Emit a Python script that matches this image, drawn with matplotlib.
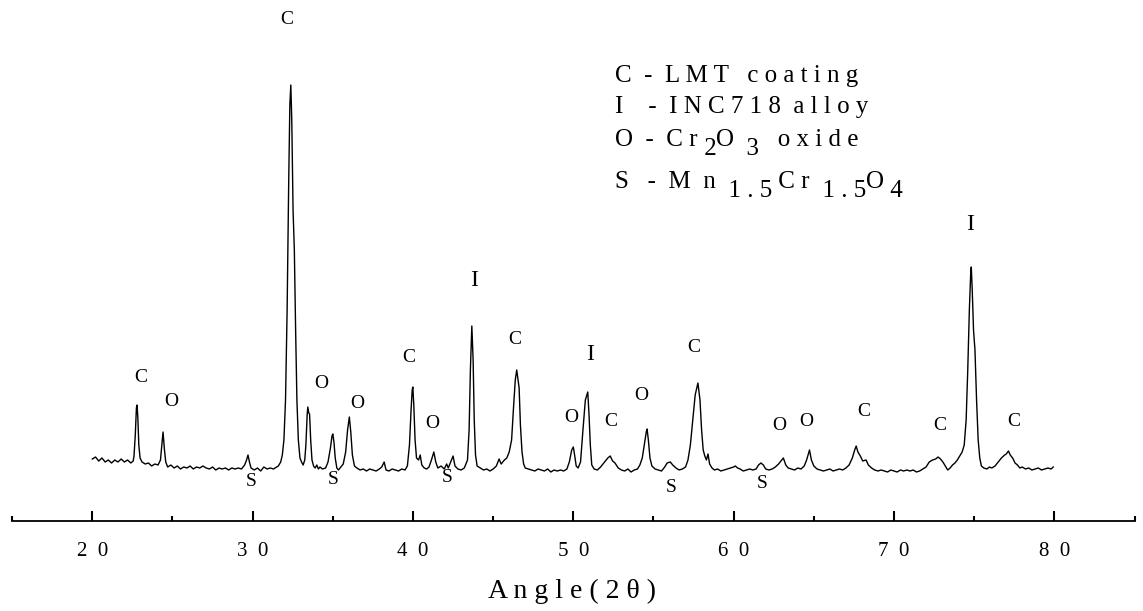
import matplotlib
matplotlib.use("Agg")
import matplotlib.pyplot as plt

plt.rcParams["font.family"] = ["Liberation Serif", "DejaVu Serif"]

# trace of the XRD pattern (2theta in degrees, intensity in a.u.)
two_theta = [
    20.00, 20.20, 20.40, 20.60, 20.80, 21.00, 21.20, 21.40, 21.60, 21.80, 22.00, 22.20, 22.40, 22.55,
    22.60, 22.68, 22.75, 22.79, 22.84, 22.90, 22.98, 23.10, 23.30, 23.50, 23.70, 23.90, 24.10, 24.25,
    24.32, 24.41, 24.50, 24.58, 24.70, 24.90, 25.10, 25.30, 25.50, 25.70, 25.90, 26.10, 26.30, 26.50,
    26.70, 26.90, 27.10, 27.30, 27.50, 27.70, 27.90, 28.10, 28.30, 28.50, 28.70, 28.90, 29.10, 29.30,
    29.50, 29.62, 29.71, 29.80, 29.90, 30.10, 30.30, 30.50, 30.70, 30.90, 31.10, 31.30, 31.50, 31.60,
    31.75, 31.85, 31.95, 32.05, 32.15, 32.25, 32.32, 32.38, 32.44, 32.52, 32.60, 32.68, 32.76, 32.85,
    32.95, 33.05, 33.15, 33.25, 33.32, 33.40, 33.44, 33.50, 33.55, 33.62, 33.70, 33.80, 33.90, 34.00,
    34.10, 34.20, 34.35, 34.55, 34.70, 34.85, 34.95, 35.00, 35.07, 35.15, 35.25, 35.35, 35.50, 35.65,
    35.80, 35.92, 36.03, 36.12, 36.22, 36.35, 36.50, 36.70, 36.90, 37.10, 37.30, 37.50, 37.70, 37.90,
    38.05, 38.20, 38.32, 38.50, 38.70, 38.90, 39.10, 39.30, 39.50, 39.65, 39.78, 39.88, 39.95, 39.99,
    40.05, 40.13, 40.22, 40.35, 40.45, 40.55, 40.70, 40.85, 41.00, 41.15, 41.30, 41.42, 41.55, 41.75,
    41.95, 42.10, 42.20, 42.35, 42.50, 42.62, 42.80, 43.00, 43.20, 43.40, 43.50, 43.58, 43.67, 43.75,
    43.82, 43.90, 44.00, 44.20, 44.40, 44.60, 44.80, 45.00, 45.20, 45.37, 45.50, 45.70, 45.85, 46.00,
    46.15, 46.28, 46.38, 46.47, 46.55, 46.62, 46.70, 46.80, 46.90, 47.00, 47.20, 47.40, 47.60, 47.80,
    48.00, 48.20, 48.40, 48.60, 48.80, 49.00, 49.20, 49.40, 49.60, 49.75, 49.90, 50.00, 50.08, 50.18,
    50.30, 50.45, 50.60, 50.75, 50.90, 50.98, 51.06, 51.15, 51.30, 51.50, 51.70, 51.90, 52.05, 52.15,
    52.30, 52.45, 52.60, 52.80, 53.00, 53.20, 53.40, 53.60, 53.80, 54.00, 54.15, 54.30, 54.45, 54.55,
    54.60, 54.68, 54.78, 54.90, 55.10, 55.30, 55.50, 55.70, 55.85, 56.05, 56.20, 56.40, 56.60, 56.80,
    57.00, 57.15, 57.30, 57.45, 57.60, 57.77, 57.90, 58.00, 58.10, 58.20, 58.30, 58.40, 58.50, 58.65,
    58.80, 59.00, 59.20, 59.40, 59.60, 59.80, 60.00, 60.10, 60.25, 60.40, 60.60, 60.80, 61.00, 61.20,
    61.40, 61.55, 61.70, 61.85, 62.00, 62.20, 62.40, 62.60, 62.80, 63.10, 63.25, 63.40, 63.60, 63.80,
    64.00, 64.20, 64.40, 64.55, 64.73, 64.85, 65.00, 65.20, 65.40, 65.60, 65.80, 66.00, 66.20, 66.40,
    66.60, 66.80, 67.00, 67.20, 67.40, 67.55, 67.64, 67.75, 67.90, 68.05, 68.26, 68.40, 68.60, 68.80,
    69.00, 69.20, 69.40, 69.60, 69.80, 70.00, 70.20, 70.40, 70.60, 70.80, 71.00, 71.20, 71.40, 71.60,
    71.80, 72.00, 72.20, 72.40, 72.60, 72.75, 72.90, 73.05, 73.20, 73.35, 73.50, 73.65, 73.80, 73.95,
    74.10, 74.25, 74.38, 74.50, 74.60, 74.70, 74.78, 74.82, 74.88, 74.96, 75.05, 75.15, 75.25, 75.35,
    75.45, 75.60, 75.80, 75.95, 76.10, 76.30, 76.50, 76.70, 76.90, 77.00, 77.14, 77.25, 77.40, 77.55,
    77.70, 77.85, 78.00, 78.20, 78.40, 78.60, 78.80, 79.00, 79.20, 79.40, 79.60, 79.80, 79.93,
]
intensity = [
    21, 23, 19, 22, 18, 20, 17, 20, 18, 21, 18, 20, 17, 19,
    24, 45, 72, 75, 62, 35, 22, 18, 16, 17, 14, 16, 15, 20,
    32, 48, 30, 18, 13, 15, 12, 14, 11, 13, 12, 14, 11, 13,
    12, 14, 12, 11, 13, 10, 12, 11, 12, 10, 12, 11, 12, 11,
    15, 20, 25, 18, 12, 10, 12, 9, 13, 11, 12, 11, 13, 14,
    18, 25, 40, 80, 170, 300, 375, 395, 360, 270, 230, 150, 80, 40,
    22, 18, 15, 20, 35, 65, 73, 67, 66, 40, 20, 14, 12, 15,
    11, 13, 11, 12, 18, 32, 44, 46, 38, 22, 12, 10, 13, 16,
    28, 50, 63, 48, 25, 14, 12, 10, 11, 9, 11, 10, 9, 11,
    13, 18, 10, 9, 11, 10, 9, 11, 10, 14, 35, 70, 90, 93,
    75, 40, 22, 20, 25, 15, 12, 11, 13, 20, 28, 18, 12, 14,
    11, 16, 12, 18, 24, 14, 11, 10, 12, 20, 50, 110, 154, 120,
    60, 25, 14, 12, 10, 11, 9, 11, 14, 21, 16, 20, 22, 28,
    40, 75, 100, 110, 100, 92, 55, 28, 16, 12, 11, 10, 9, 11,
    10, 9, 11, 8, 10, 9, 10, 9, 11, 18, 30, 33, 25, 14,
    12, 18, 50, 80, 88, 65, 35, 15, 11, 10, 13, 17, 20, 22,
    24, 19, 17, 12, 10, 9, 11, 8, 10, 11, 15, 22, 38, 48,
    51, 40, 22, 14, 11, 10, 9, 13, 17, 18, 15, 12, 10, 11,
    13, 20, 35, 60, 85, 97, 80, 50, 30, 24, 20, 26, 16, 12,
    10, 11, 9, 10, 11, 12, 13, 14, 12, 11, 9, 10, 11, 10,
    11, 15, 17, 15, 11, 10, 11, 13, 16, 22, 15, 12, 11, 10,
    12, 11, 14, 20, 30, 20, 14, 11, 10, 9, 10, 11, 9, 10,
    11, 10, 12, 15, 22, 30, 34, 28, 24, 19, 20, 15, 12, 10,
    9, 10, 9, 8, 10, 9, 8, 10, 9, 10, 9, 10, 8, 9,
    11, 13, 18, 20, 21, 23, 21, 18, 14, 10, 12, 15, 17, 20,
    24, 28, 35, 60, 110, 170, 205, 213, 190, 150, 130, 80, 40, 22,
    14, 12, 11, 13, 12, 14, 18, 22, 25, 26, 29, 25, 22, 17,
    15, 12, 13, 11, 12, 10, 11, 12, 10, 11, 12, 11, 13,
]

# phase marks above / below the peaks
mark_text = ["C", "C", "O", "S", "O", "S", "O", "C", "O", "S", "I", "C",
             "O", "I", "C", "O", "S", "C", "S", "O", "O", "C", "C", "I", "C"]
mark_x = [32.15, 23.05, 24.92, 29.90, 34.27, 35.00, 36.51, 39.76, 41.19, 42.13, 43.81, 46.37,
          49.86, 51.05, 52.36, 54.23, 56.10, 57.53, 61.77, 62.83, 64.52, 68.14, 72.88, 74.75, 77.44]
mark_y = [460, 102, 78, -2, 97, 1, 76, 122, 56, 2, 200, 141,
          63, 125, 58, 85, -8, 132, -3, 54, 58, 68, 55, 255, 58]

major_ticks = [20, 30, 40, 50, 60, 70, 80]
tick_labels = ["2  0", "3  0", "4  0", "5  0", "6  0", "7  0", "8  0"]
minor_ticks = [15, 25, 35, 45, 55, 65, 75, 85]

# key lines: (text, lowered) pieces
legend_lines = [
    [("C  -  L M T   c o a t i n g", False)],
    [("I    -  I N C 7 1 8  a l l o y", False)],
    [("O  -  C r", False), (" 2", True), ("O", False), ("  3", True), ("   o x i d e", False)],
    [("S   -  M  n", False), ("  1 . 5", True), (" C r", False), ("  1 . 5", True), ("O", False), (" 4", True)],
]
legend_y = [398, 367, 334, 292]

W, H = 1143, 611
fig = plt.figure(figsize=(W / 100, H / 100), dpi=100)
x0, x1, yb = 12.15, 1134.5, 521
ax = fig.add_axes([x0 / W, (H - yb) / H, (x1 - x0) / W, yb / H])

ax.plot(two_theta, intensity, color="black", lw=1.0)

for t, x, y in zip(mark_text, mark_x, mark_y):
    size = 17 if t == "I" else 14
    ax.text(x, y, t, ha="center", va="center", fontsize=size)

key_x = 52.6
for pieces, y in zip(legend_lines, legend_y):
    first = ax.text(key_x, y, pieces[0][0], ha="left", va="baseline", fontsize=18)
    prev = first
    for txt, low in pieces[1:]:
        prev = ax.annotate(txt, xy=(1, 0), xycoords=(prev, first),
                           xytext=(0, -6.5 if low else 0), textcoords="offset points",
                           ha="left", va="bottom", fontsize=18)

ax.set_xlim(15, 85)
ax.set_ylim(480 - yb, 480)

for s in ["left", "right", "top"]:
    ax.spines[s].set_visible(False)
ax.spines["bottom"].set_linewidth(1.3)
ax.set_yticks([])
ax.set_xticks(major_ticks, tick_labels)
ax.set_xticks(minor_ticks, minor=True)
ax.tick_params(axis="x", which="major", direction="in", length=7.5, width=1.5, pad=15, labelsize=15)
ax.tick_params(axis="x", which="minor", direction="in", length=3.8, width=1.5)

ax.set_xlabel("A n g l e ( 2 θ )", fontsize=20)
ax.xaxis.set_label_coords(0.4988, -(579 - yb) / yb)
ax.xaxis.label.set_va("top")

fig.savefig("out.png", dpi=100)
